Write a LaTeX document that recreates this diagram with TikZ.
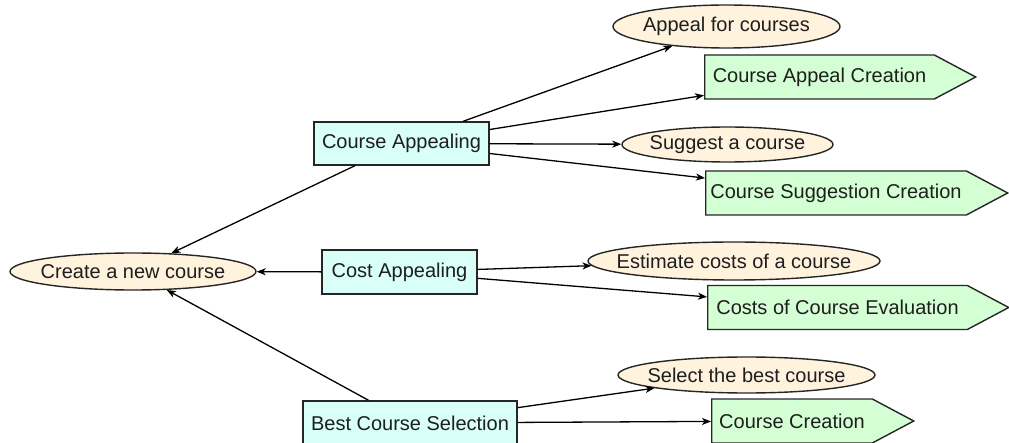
\documentclass[tikz,border=0pt]{standalone}
\usepackage{fontspec}
\setmainfont{Liberation Sans}
\usepackage{tikz}
\usetikzlibrary{shapes.geometric,shapes.symbols,arrows.meta}
\definecolor{inkline}{HTML}{262626}
\definecolor{inktext}{HTML}{1E1E1E}
\definecolor{goalfill}{HTML}{FFF3DE}
\definecolor{taskfill}{HTML}{D8FFF8}
\definecolor{resultfill}{HTML}{D4FFD4}

\begin{document}
\begin{tikzpicture}[
    x=1pt, y=-1pt,
    every node/.style={font=\fontsize{20}{23}\selectfont, text=inktext},
    goalnode/.style={ellipse, draw=inkline, fill=goalfill, line width=1.4pt, inner xsep=-40pt, inner ysep=-10pt},
    taskbox/.style={rectangle, draw=inkline, fill=taskfill, line width=1.4pt, inner sep=0pt},
    resultsig/.style={signal, signal to=east, signal pointer angle=56, draw=inkline, fill=resultfill, line width=1.4pt, inner xsep=2pt, inner ysep=0pt, minimum height=44pt, anchor=west},
    link/.style={-{Stealth[length=9pt, width=7pt, inset=2.5pt]}, line width=1.3pt, draw=black}
]
    \useasboundingbox (0,0) rectangle (1009,443);

    % --- ROOT GOAL ---
    \node[goalnode, minimum width=246pt, minimum height=37pt] (create) at (133,271.5) {Create a new course};

    % --- SUB TASKS ---
    \node[taskbox, minimum width=175pt, minimum height=43pt] (capp) at (401.5,143.5) {Course Appealing};
    \node[taskbox, minimum width=155pt, minimum height=44pt] (cost) at (399.5,272) {Cost Appealing};
    \node[taskbox, minimum width=214pt, minimum height=44pt] (best) at (410,423) {Best Course Selection};

    % --- GOALS OF THE SUB TASKS ---
    \node[goalnode, minimum width=227pt, minimum height=43pt] (appeal) at (726.5,26.5) {Appeal for courses};
    \node[goalnode, minimum width=211pt, minimum height=35pt] (suggest) at (727.5,144.5) {Suggest a course};
    \node[goalnode, minimum width=292pt, minimum height=38pt] (estimate) at (734,261) {Estimate costs of a course};
    \node[goalnode, minimum width=257pt, minimum height=36pt] (select) at (746.5,375) {Select the best course};

    % --- RESULTS ---
    \node[resultsig, minimum width=271pt] (capcre) at (704,77) {Course Appeal Creation};
    \node[resultsig, minimum width=302pt] (sugcre) at (705,193) {Course Suggestion Creation};
    \node[resultsig, minimum width=301pt] (costev) at (707,307.5) {Costs of Course Evaluation};
    \node[resultsig, minimum width=202pt] (coursecre) at (711,421) {Course Creation};

    % --- LINKS ---
    \draw[link] (capp) -- (create);
    \draw[link] (cost) -- (create);
    \draw[link] (best) -- (create);

    \draw[link] (capp) -- (appeal);
    \draw[link] (capp) -- (capcre);
    \draw[link] (capp) -- (suggest);
    \draw[link] (capp) -- (sugcre);

    \draw[link] (cost) -- (estimate);
    \draw[link] (cost) -- (costev);

    \draw[link] (best) -- (select);
    \draw[link] (best) -- (coursecre);
\end{tikzpicture}
\end{document}
